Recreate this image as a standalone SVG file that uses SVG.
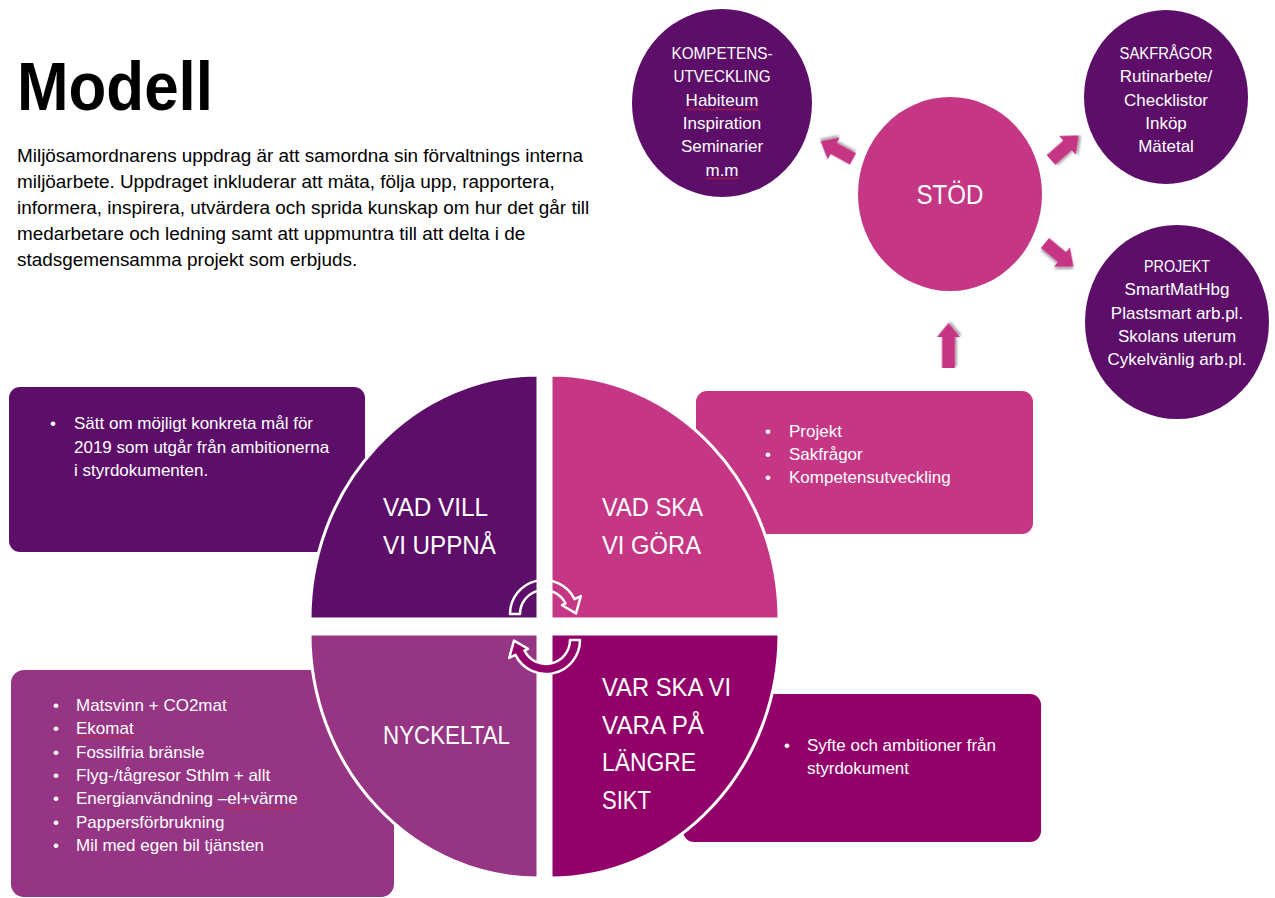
<svg xmlns="http://www.w3.org/2000/svg" width="1275" height="898" viewBox="0 0 1275 898">
  <style>
    .body { font-family: "Liberation Sans", Arial, sans-serif; font-size: 17px; fill: #ffffff; }
    .para { font-family: "Liberation Sans", Arial, sans-serif; font-size: 18.9px; fill: #000000; }
    .quad { font-family: "Liberation Sans", Arial, sans-serif; font-size: 25.6px; fill: #ffffff; }
    .mid { text-anchor: middle; }
    .dp { fill: #5c0e69; }
    .pk { fill: #c53684; }
    .lv { fill: #953584; }
    .mg { fill: #920069; }
    .qd { stroke: #ffffff; stroke-width: 3; }
    .blk { fill: #c53684; filter: url(#shadow); }
    .cyc { stroke: #ffffff; stroke-width: 2.5; stroke-linejoin: round; }
  </style>
  <defs>
    <filter id="shadow" x="-30%" y="-30%" width="160%" height="160%">
      <feDropShadow dx="1.5" dy="2" stdDeviation="1.2" flood-color="#000000" flood-opacity="0.35"/>
    </filter>
    <pattern id="squiggle" width="4" height="3" patternUnits="userSpaceOnUse">
      <path d="M0 2.5 L2 0.5 L4 2.5" fill="none" stroke="#e0202a" stroke-width="0.9"/>
    </pattern>
    <path id="diagArrow" d="M0,-6.5 L22,-6.5 L22,-12.5 L37,0 L22,12.5 L22,6.5 L0,6.5 Z"/>
  </defs>

  <rect width="1275" height="898" fill="#ffffff"/>

  <g id="title">
    <text x="17" y="110" font-family="Liberation Sans, Arial, sans-serif" font-weight="bold" font-size="68" textLength="196" lengthAdjust="spacingAndGlyphs" fill="#000000">Modell</text>
  </g>

  <g id="description" class="para">
    <text x="17" y="162">Miljösamordnarens uppdrag är att samordna sin förvaltnings interna</text>
    <text x="17" y="188">miljöarbete. Uppdraget inkluderar att mäta, följa upp, rapportera,</text>
    <text x="17" y="214">informera, inspirera, utvärdera och sprida kunskap om hur det går till</text>
    <text x="17" y="240">medarbetare och ledning samt att uppmuntra till att delta i de</text>
    <text x="17" y="266">stadsgemensamma projekt som erbjuds.</text>
  </g>

  <!-- Support circles -->
  <g id="node-kompetens">
    <ellipse class="dp" cx="722" cy="103" rx="90" ry="94"/>
    <g class="body mid">
      <text x="722" y="59" textLength="101" lengthAdjust="spacingAndGlyphs">KOMPETENS-</text>
      <text x="722" y="82.3" textLength="97" lengthAdjust="spacingAndGlyphs">UTVECKLING</text>
      <text x="722" y="105.6">Habiteum</text>
      <text x="722" y="128.9">Inspiration</text>
      <text x="722" y="152.2">Seminarier</text>
      <text x="722" y="175.5">m.m</text>
    </g>
    <rect x="686" y="108" width="72" height="3" fill="url(#squiggle)"/>
    <rect x="706" y="177" width="33" height="3" fill="url(#squiggle)"/>
  </g>

  <g id="node-stod">
    <ellipse class="pk" cx="950" cy="194" rx="92" ry="97"/>
    <text x="950" y="204" class="mid" font-family="Liberation Sans, Arial, sans-serif" font-size="28" fill="#ffffff" textLength="67" lengthAdjust="spacingAndGlyphs">STÖD</text>
  </g>

  <g id="node-sakfragor">
    <ellipse class="dp" cx="1166" cy="97" rx="82" ry="87"/>
    <g class="body mid">
      <text x="1166" y="59" textLength="93" lengthAdjust="spacingAndGlyphs">SAKFRÅGOR</text>
      <text x="1166" y="82.3">Rutinarbete/</text>
      <text x="1166" y="105.6">Checklistor</text>
      <text x="1166" y="128.9">Inköp</text>
      <text x="1166" y="152.2">Mätetal</text>
    </g>
  </g>

  <g id="node-projekt">
    <ellipse class="dp" cx="1177" cy="322" rx="92" ry="97"/>
    <g class="body mid">
      <text x="1177" y="272" textLength="66" lengthAdjust="spacingAndGlyphs">PROJEKT</text>
      <text x="1177" y="295.3">SmartMatHbg</text>
      <text x="1177" y="318.6">Plastsmart arb.pl.</text>
      <text x="1177" y="341.9">Skolans uterum</text>
      <text x="1177" y="365.2">Cykelvänlig arb.pl.</text>
    </g>
  </g>

  <!-- Side boxes -->
  <g id="box-mal">
    <rect class="dp" x="9" y="387" width="356" height="165" rx="11"/>
    <g class="body">
      <text x="50" y="429">•</text>
      <text x="74" y="429">Sätt om möjligt konkreta mål för</text>
      <text x="74" y="452.5">2019 som utgår från ambitionerna</text>
      <text x="74" y="476">i styrdokumenten.</text>
    </g>
  </g>

  <g id="box-gora">
    <rect class="pk" x="696" y="391" width="337" height="143" rx="11"/>
    <g class="body">
      <text x="765" y="437">•</text>
      <text x="789" y="437">Projekt</text>
      <text x="765" y="460">•</text>
      <text x="789" y="460">Sakfrågor</text>
      <text x="765" y="483">•</text>
      <text x="789" y="483">Kompetensutveckling</text>
    </g>
  </g>

  <g id="box-nyckeltal">
    <rect class="lv" x="11" y="670" width="383" height="227" rx="13"/>
    <g class="body">
      <text x="53" y="711">•</text>
      <text x="76" y="711">Matsvinn + CO2mat</text>
      <text x="53" y="734.3">•</text>
      <text x="76" y="734.3">Ekomat</text>
      <text x="53" y="757.6">•</text>
      <text x="76" y="757.6">Fossilfria bränsle</text>
      <text x="53" y="780.9">•</text>
      <text x="76" y="780.9">Flyg-/tågresor Sthlm + allt</text>
      <text x="53" y="804.2">•</text>
      <text x="76" y="804.2">Energianvändning –el+värme</text>
      <text x="53" y="827.5">•</text>
      <text x="76" y="827.5">Pappersförbrukning</text>
      <text x="53" y="850.8">•</text>
      <text x="76" y="850.8">Mil med egen bil tjänsten</text>
    </g>
    <rect x="76" y="735" width="58" height="3" fill="url(#squiggle)"/>
    <rect x="227" y="807" width="70" height="3" fill="url(#squiggle)"/>
  </g>

  <g id="box-sikt">
    <rect class="mg" x="683" y="694" width="358" height="148" rx="11"/>
    <g class="body">
      <text x="784" y="751">•</text>
      <text x="807" y="751">Syfte och ambitioner från</text>
      <text x="807" y="774">styrdokument</text>
    </g>
  </g>

  <!-- Quadrants -->
  <g id="q-vad-vill">
    <path class="dp qd" d="M538,619 L310,619 A228,244 0 0 1 538,375 Z"/>
    <g class="quad">
      <text x="383" y="516" textLength="105" lengthAdjust="spacingAndGlyphs">VAD VILL</text>
      <text x="383" y="554" textLength="113" lengthAdjust="spacingAndGlyphs">VI UPPNÅ</text>
    </g>
  </g>
  <g id="q-vad-ska">
    <path class="pk qd" d="M551,619 L551,375 A228,244 0 0 1 779,619 Z"/>
    <g class="quad">
      <text x="602" y="516" textLength="101" lengthAdjust="spacingAndGlyphs">VAD SKA</text>
      <text x="602" y="554" textLength="99" lengthAdjust="spacingAndGlyphs">VI GÖRA</text>
    </g>
  </g>
  <g id="q-nyckeltal">
    <path class="lv qd" d="M538,634 L538,878 A228,244 0 0 1 310,634 Z"/>
    <text class="quad" x="383" y="744" textLength="127" lengthAdjust="spacingAndGlyphs">NYCKELTAL</text>
  </g>
  <g id="q-var-ska">
    <path class="mg qd" d="M551,634 L779,634 A228,244 0 0 1 551,878 Z"/>
    <g class="quad">
      <text x="602" y="696" textLength="129" lengthAdjust="spacingAndGlyphs">VAR SKA VI</text>
      <text x="602" y="733.5" textLength="102" lengthAdjust="spacingAndGlyphs">VARA PÅ</text>
      <text x="602" y="771" textLength="94" lengthAdjust="spacingAndGlyphs">LÄNGRE</text>
      <text x="602" y="809" textLength="49" lengthAdjust="spacingAndGlyphs">SIKT</text>
    </g>
  </g>

  <!-- Connectors -->
  <g id="connectors">
    <path class="cyc" fill="none" d="M510,614 A34,34 0 0 1 574.56,599.09 L580.85,596.03 L576,613.4 L561.98,605.23 L565.57,603.48 A24,24 0 0 0 520,614 Z"/>
    <path class="cyc" fill="#920069" transform="rotate(180 545 627)" d="M510,614 A34,34 0 0 1 574.56,599.09 L580.85,596.03 L576,613.4 L561.98,605.23 L565.57,603.48 A24,24 0 0 0 520,614 Z"/>
    <path class="blk" d="M0,-6.5 L31,-6.5 L31,-11.5 L45,0 L31,11.5 L31,6.5 L0,6.5 Z" transform="translate(948.5 368) rotate(-90)"/>
    <use href="#diagArrow" class="blk" transform="translate(853 159) rotate(208.7)"/>
    <use href="#diagArrow" class="blk" transform="translate(1051 160) rotate(-41.6)"/>
    <use href="#diagArrow" class="blk" transform="translate(1045 243) rotate(39.6)"/>
  </g>
</svg>
